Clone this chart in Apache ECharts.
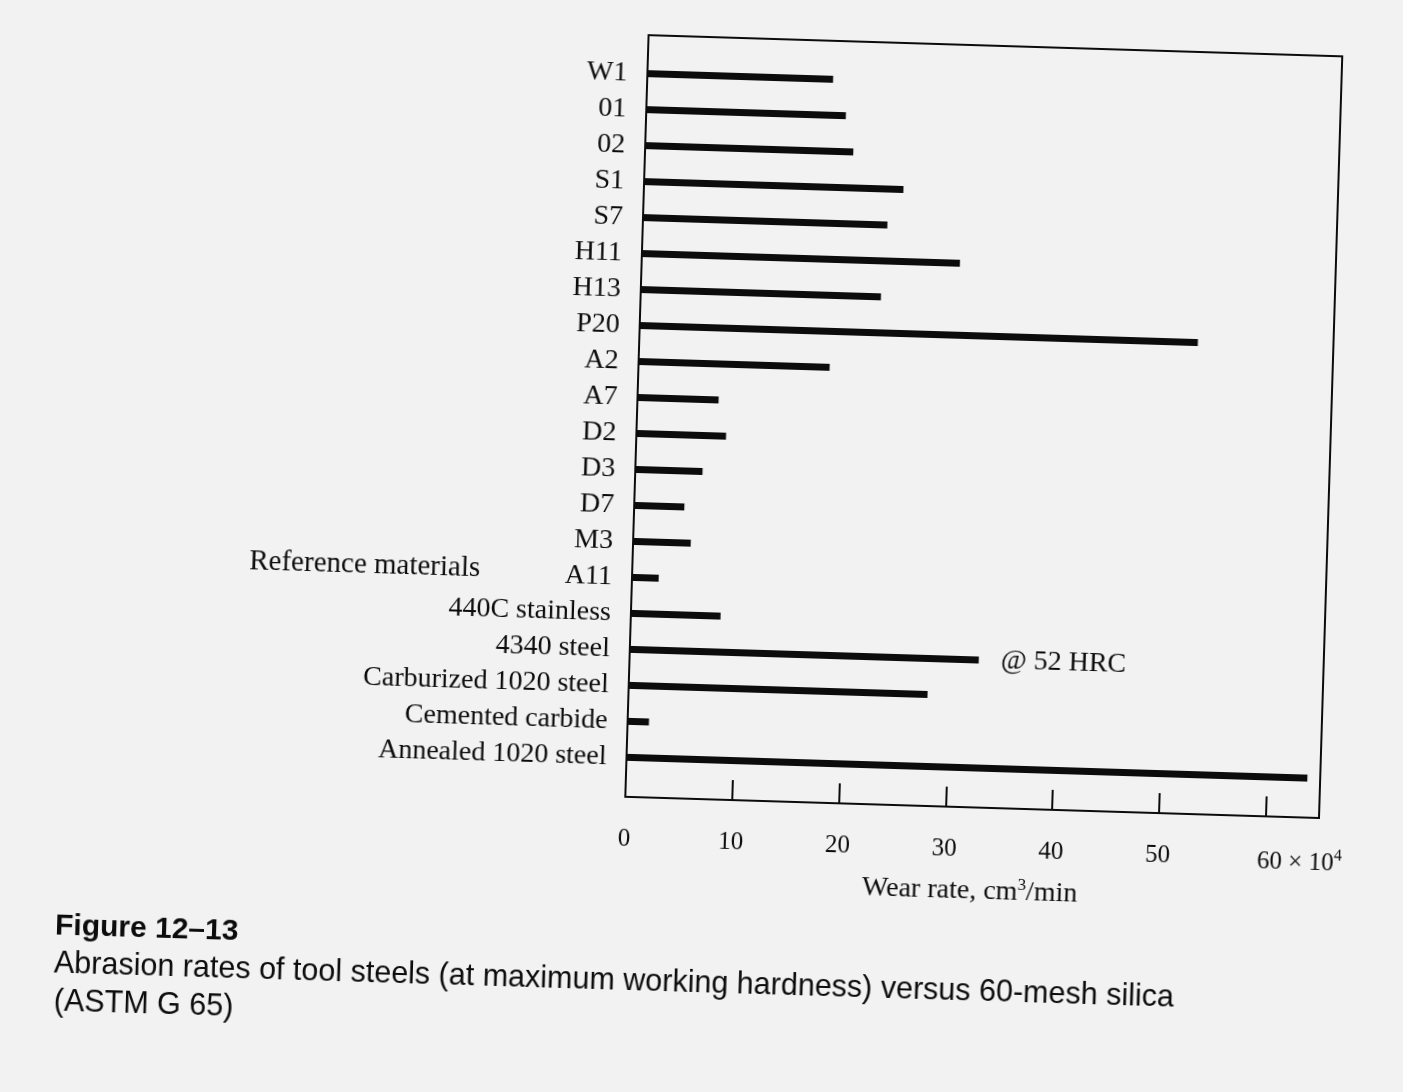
<!DOCTYPE html>
<html lang="en">
<head>
    <meta charset="utf-8">
    <title>Abrasion rates of tool steels</title>
    <style>
        html, body { margin: 0; padding: 0; background: #f2f2f2; overflow: hidden; }
        /* the scanned page sits slightly askew */
        #main { width: 1403px; height: 1092px; transform: rotate(1.75deg); transform-origin: 701px 546px; }
    </style>
</head>

<body>
    <div id="main"></div>

    <script src="https://cdn.jsdelivr.net/npm/echarts@6.0.0/dist/echarts.min.js"></script>
    <script type="text/javascript">

        var myChart = echarts.init(document.getElementById('main'));

        // materials, top to bottom
        var categories = ['W1', '01', '02', 'S1', 'S7', 'H11', 'H13', 'P20', 'A2', 'A7', 'D2', 'D3', 'D7', 'M3', 'A11',
            '440C stainless', '4340 steel', 'Carburized 1020 steel', 'Cemented carbide', 'Annealed 1020 steel'];
        // wear rate, x 10^4 cm3/min
        var wearRate = [17.4, 18.7, 19.5, 24.3, 22.9, 29.8, 22.5, 52.3, 17.9, 7.6, 8.4, 6.3, 4.7, 5.4, 2.5,
            8.4, 32.7, 28.0, 2.0, 63.8];
        var tickValues = [10, 20, 30, 40, 50, 60];
        var labelValues = [0, 10, 20, 30, 40, 50, 60];
        var noteIndex = 16;
        var noteText = '@ 52 HRC';

        var serif = 'Liberation Serif';
        var ink = '#0c0c0c';

        var barData = wearRate.map(function (v, i) {
            if (i === noteIndex) {
                return {
                    value: v,
                    label: {
                        show: true,
                        position: 'right',
                        distance: 22,
                        formatter: noteText,
                        color: ink,
                        fontFamily: serif,
                        fontSize: 28
                    }
                };
            }
            return v;
        });

        option = {
            backgroundColor: '#f2f2f2',
            animation: false,
            grid: [{
                // frame
                left: 633,
                right: 76,
                top: 37,
                bottom: 293,
                show: true,
                borderColor: ink,
                borderWidth: 2,
                backgroundColor: 'transparent'
            }, {
                // bars
                left: 633,
                right: 76,
                top: 57.5,
                bottom: 314.5
            }],
            xAxis: [{
                gridIndex: 0,
                type: 'value',
                min: 0,
                max: 65,
                axisLine: { show: false },
                splitLine: { show: false },
                axisTick: {
                    show: true,
                    inside: true,
                    length: 20,
                    customValues: tickValues,
                    lineStyle: { color: ink, width: 2 }
                },
                axisLabel: {
                    customValues: labelValues,
                    margin: 30,
                    color: ink,
                    fontFamily: serif,
                    fontSize: 25,
                    formatter: function (v) {
                        if (v === 60) {
                            return '{pad|}{n|60}{x| × 10}{sup|4}';
                        }
                        return '{n|' + v + '}';
                    },
                    rich: {
                        pad: { width: 70 },
                        n: { fontFamily: serif, fontSize: 25, color: ink },
                        x: { fontFamily: serif, fontSize: 25, color: ink },
                        sup: { fontFamily: serif, fontSize: 16, color: ink, padding: [0, 0, 14, 0] }
                    }
                },
                name: 'Wear rate, cm{sup|3}/min',
                nameLocation: 'middle',
                nameGap: 68,
                nameTextStyle: {
                    color: ink,
                    fontFamily: serif,
                    fontSize: 28,
                    rich: {
                        sup: { fontFamily: serif, fontSize: 17, color: ink, padding: [0, 0, 15, 0] }
                    }
                }
            }, {
                gridIndex: 1,
                type: 'value',
                min: 0,
                max: 65,
                show: false
            }],
            yAxis: [{
                gridIndex: 0,
                type: 'value',
                show: false
            }, {
                gridIndex: 1,
                type: 'category',
                inverse: true,
                data: categories,
                axisLine: { show: false },
                axisTick: { show: false },
                splitLine: { show: false },
                axisLabel: {
                    interval: 0,
                    margin: 20,
                    color: ink,
                    fontFamily: serif,
                    fontSize: 28
                }
            }],
            series: [{
                name: 'Wear rate',
                type: 'bar',
                xAxisIndex: 1,
                yAxisIndex: 1,
                data: barData,
                barWidth: 7,
                itemStyle: { color: ink }
            }],
            graphic: [{
                type: 'text',
                left: 250,
                top: 561,
                style: {
                    text: 'Reference materials',
                    fill: ink,
                    font: '29px "Liberation Serif"'
                }
            }, {
                type: 'text',
                left: 67,
                top: 931,
                style: {
                    text: 'Figure 12–13',
                    fill: ink,
                    font: 'bold 30px "Liberation Sans"'
                }
            }, {
                type: 'text',
                left: 67,
                top: 968,
                style: {
                    text: 'Abrasion rates of tool steels (at maximum working hardness) versus 60-mesh silica',
                    fill: ink,
                    font: '30.5px "Liberation Sans"'
                }
            }, {
                type: 'text',
                left: 68,
                top: 1006,
                style: {
                    text: '(ASTM G 65)',
                    fill: ink,
                    font: '30.5px "Liberation Sans"'
                }
            }]
        };
        myChart.setOption(option);
    </script>
</body>
</html>
